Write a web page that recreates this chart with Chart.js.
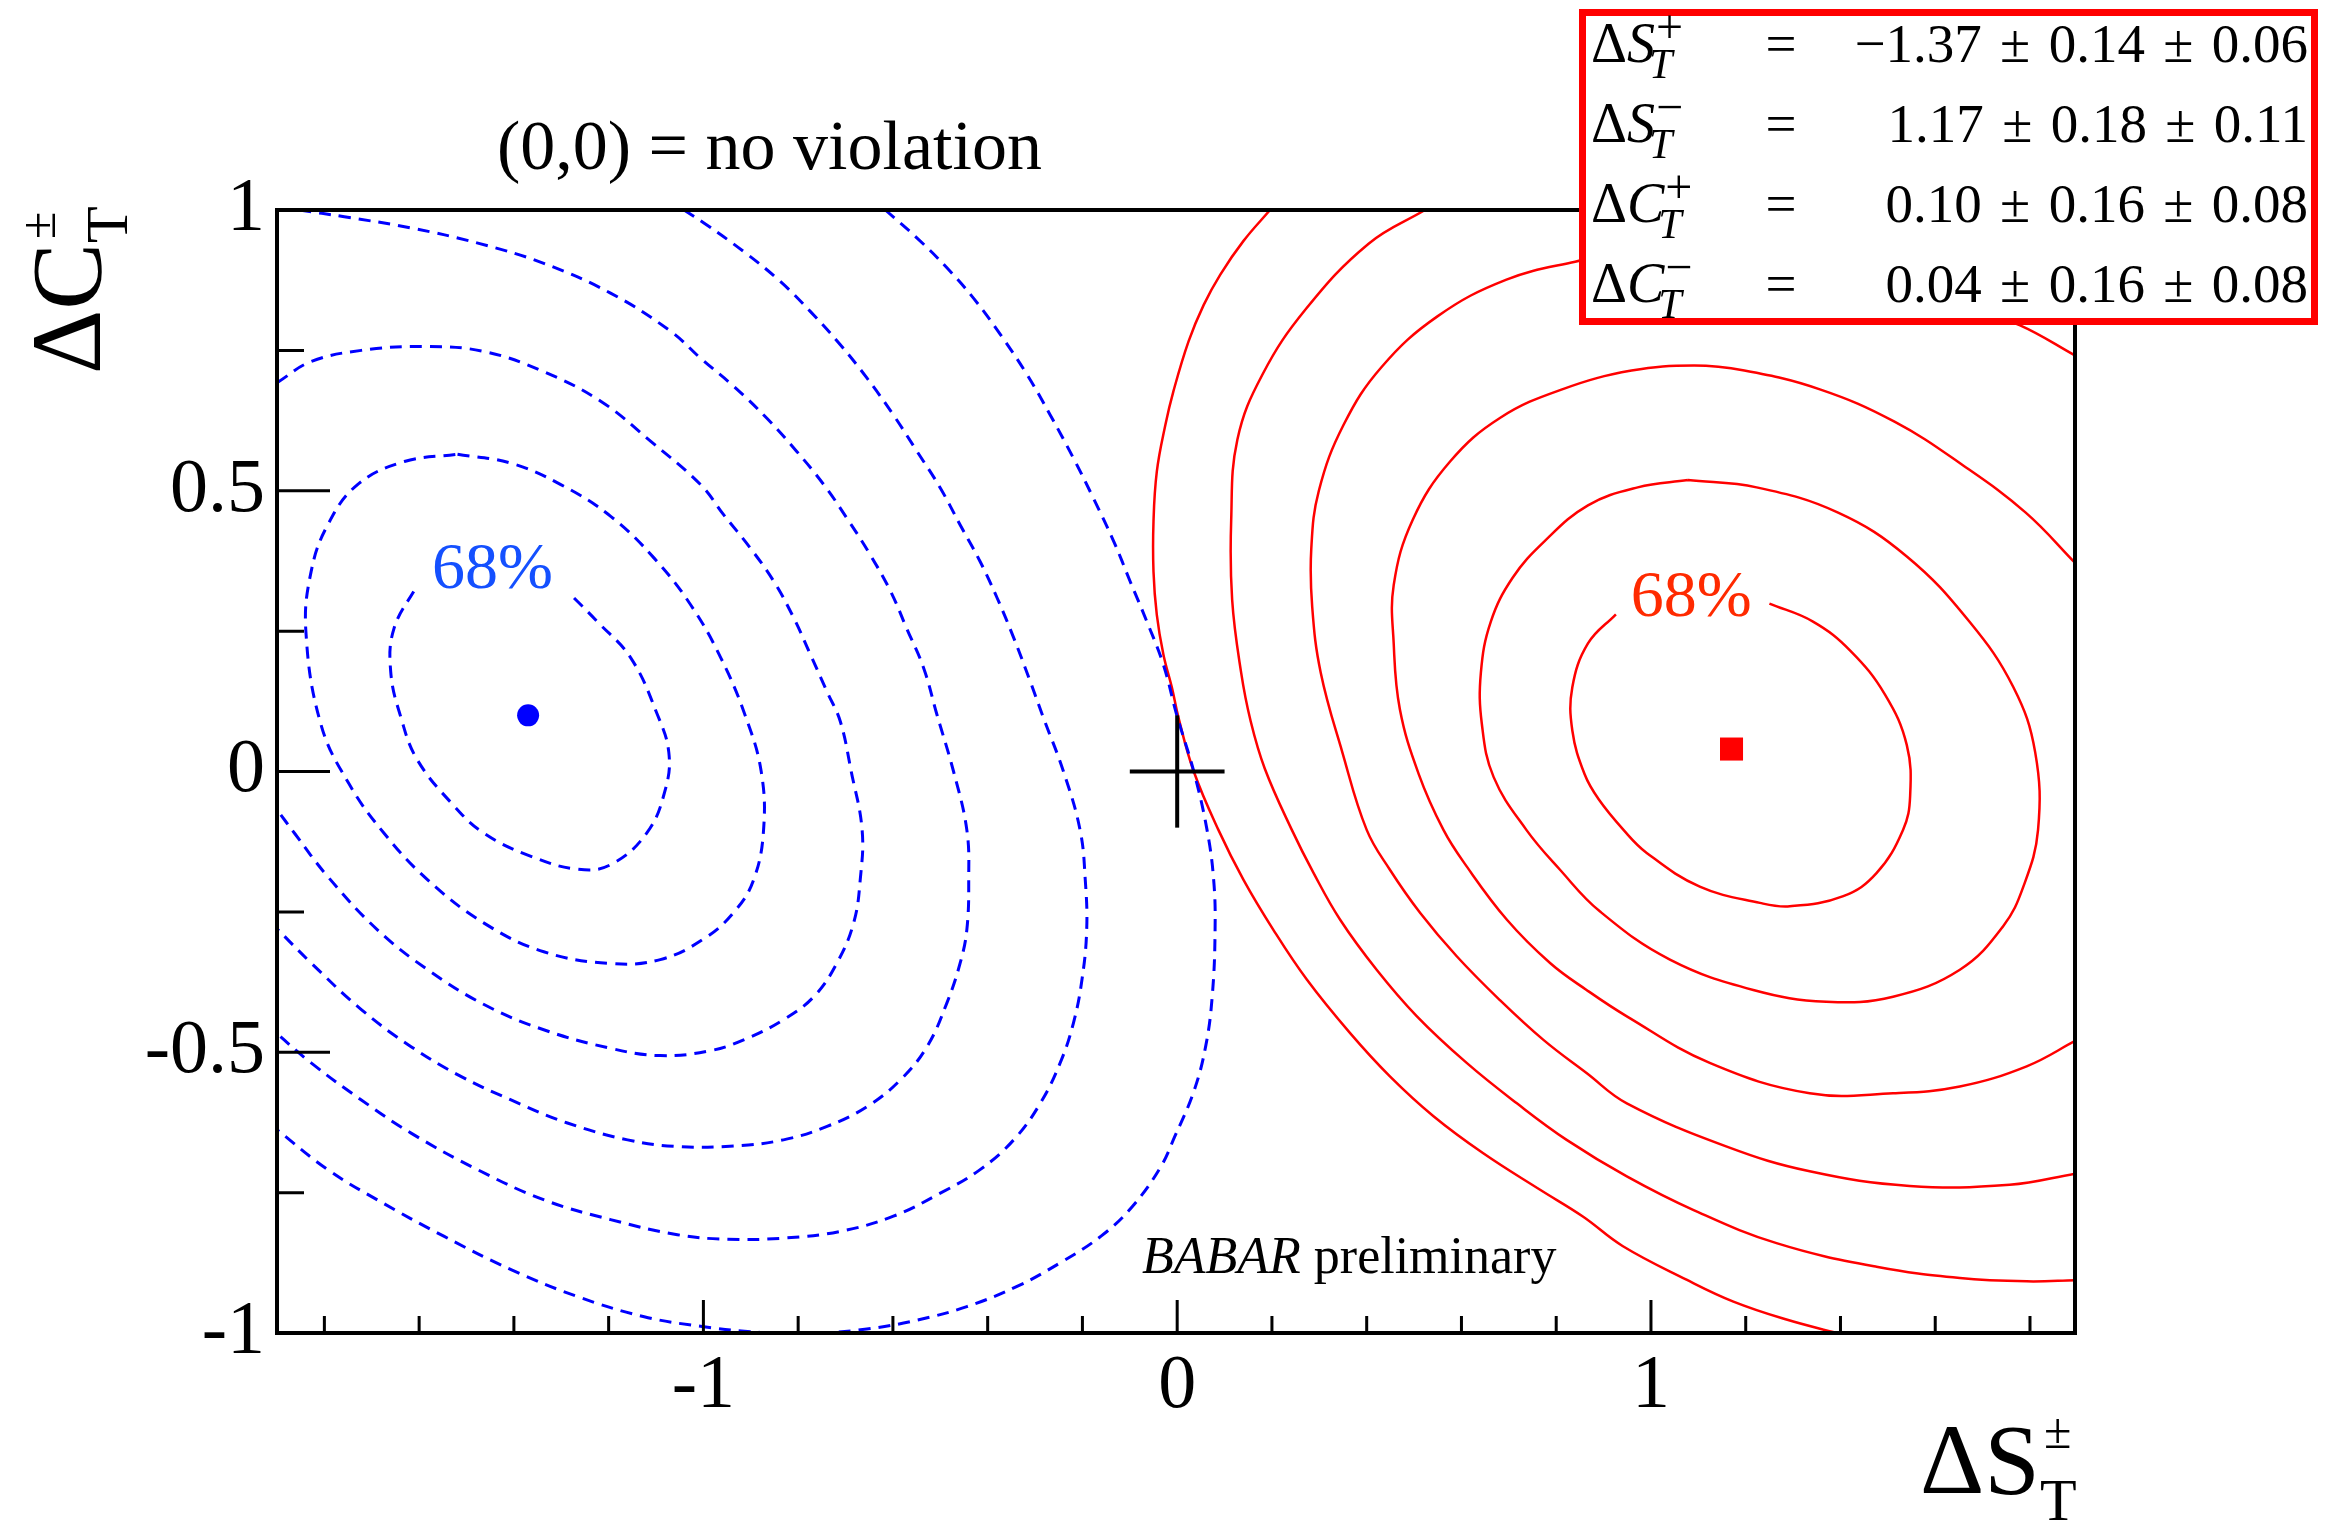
<!DOCTYPE html>
<html>
<head>
<meta charset="utf-8">
<title>ΔC vs ΔS</title>
<script src="https://cdn.jsdelivr.net/npm/chart.js@4.4.1/dist/chart.umd.min.js"></script>
<style>
  html, body { margin: 0; padding: 0; background: #fff; }
  canvas { display: block; }
</style>
</head>
<body>
<canvas id="tplot" width="2336" height="1522"></canvas>
<script>
// fit results, rows: dS+, dS-, dC+, dC-
const paramLetters = ['S', 'S', 'C', 'C'];
const paramSigns = ['+', '\u2212', '+', '\u2212'];
const centralValues = [-1.37, 1.17, 0.10, 0.04];
const statErrors = [0.14, 0.18, 0.16, 0.16];
const systErrors = [0.06, 0.11, 0.08, 0.08];

// axis ticks
const xTicks = [-1.8, -1.6, -1.4, -1.2, -1, -0.8, -0.6, -0.4, -0.2, 0, 0.2, 0.4, 0.6, 0.8, 1, 1.2, 1.4, 1.6, 1.8];
const xTickLabels = [-1, 0, 1];
const yTicks = [-1, -0.75, -0.5, -0.25, 0, 0.25, 0.5, 0.75, 1];
const yTickLabels = [-1, -0.5, 0, 0.5, 1];

// (0,0) marker arms
const crossH = [[-0.1, 0], [0.1, 0]];
const crossV = [[0, -0.1], [0, 0.1]];

// likelihood contours for (dS+, dC+), innermost = 68%
const plusLevel1 = [[-1.273, 0.309], [-1.224, 0.267], [-1.153, 0.202], [-1.097, 0.101], [-1.073, 0.034], [-1.080, -0.031], [-1.119, -0.109], [-1.196, -0.166], [-1.266, -0.174], [-1.364, -0.151], [-1.463, -0.110], [-1.531, -0.057], [-1.604, 0.021], [-1.638, 0.095], [-1.660, 0.178], [-1.653, 0.255], [-1.605, 0.330]];
const plusLevel2 = [[-1.519, 0.565], [-1.406, 0.549], [-1.301, 0.511], [-1.195, 0.454], [-1.104, 0.380], [-1.027, 0.297], [-0.963, 0.202], [-0.911, 0.098], [-0.878, 0.000], [-0.873, -0.104], [-0.894, -0.193], [-0.935, -0.250], [-0.999, -0.298], [-1.091, -0.335], [-1.196, -0.342], [-1.337, -0.321], [-1.463, -0.270], [-1.582, -0.193], [-1.674, -0.110], [-1.748, -0.022], [-1.807, 0.083], [-1.839, 0.249], [-1.828, 0.356], [-1.793, 0.439], [-1.730, 0.511], [-1.631, 0.552], [-1.519, 0.565]];
const plusLevel3 = [[-1.899, 0.693], [-1.828, 0.730], [-1.722, 0.750], [-1.590, 0.757], [-1.463, 0.748], [-1.337, 0.712], [-1.216, 0.659], [-1.111, 0.588], [-1.006, 0.511], [-0.957, 0.457], [-0.901, 0.398], [-0.851, 0.338], [-0.809, 0.273], [-0.774, 0.208], [-0.739, 0.142], [-0.711, 0.089], [-0.688, 0.000], [-0.665, -0.104], [-0.669, -0.193], [-0.683, -0.270], [-0.718, -0.341], [-0.767, -0.401], [-0.831, -0.442], [-0.915, -0.478], [-0.990, -0.498], [-1.091, -0.506], [-1.196, -0.493], [-1.337, -0.460], [-1.463, -0.415], [-1.582, -0.353], [-1.688, -0.282], [-1.793, -0.187], [-1.863, -0.110], [-1.900, -0.068]];
const plusLevel4 = [[-1.853, 1.000], [-1.758, 0.988], [-1.617, 0.968], [-1.476, 0.941], [-1.337, 0.905], [-1.196, 0.852], [-1.069, 0.784], [-1.006, 0.736], [-0.936, 0.686], [-0.866, 0.629], [-0.803, 0.570], [-0.746, 0.511], [-0.697, 0.451], [-0.648, 0.386], [-0.605, 0.321], [-0.571, 0.255], [-0.535, 0.184], [-0.507, 0.101], [-0.472, 0.000], [-0.444, -0.104], [-0.440, -0.193], [-0.444, -0.282], [-0.458, -0.341], [-0.486, -0.412], [-0.528, -0.490], [-0.584, -0.549], [-0.655, -0.597], [-0.739, -0.632], [-0.831, -0.656], [-0.936, -0.667], [-1.055, -0.668], [-1.160, -0.656], [-1.287, -0.626], [-1.406, -0.585], [-1.512, -0.543], [-1.617, -0.490], [-1.722, -0.424], [-1.828, -0.341], [-1.900, -0.280]];
const plusLevel5 = [[-1.041, 1.000], [-0.999, 0.977], [-0.915, 0.926], [-0.838, 0.873], [-0.774, 0.819], [-0.711, 0.760], [-0.655, 0.701], [-0.599, 0.635], [-0.549, 0.570], [-0.500, 0.505], [-0.458, 0.439], [-0.416, 0.374], [-0.380, 0.309], [-0.345, 0.238], [-0.310, 0.160], [-0.282, 0.095], [-0.240, 0.000], [-0.205, -0.104], [-0.194, -0.193], [-0.191, -0.282], [-0.201, -0.371], [-0.219, -0.448], [-0.247, -0.519], [-0.289, -0.591], [-0.345, -0.656], [-0.416, -0.709], [-0.500, -0.751], [-0.599, -0.792], [-0.711, -0.819], [-0.831, -0.831], [-0.950, -0.833], [-1.055, -0.825], [-1.196, -0.798], [-1.336, -0.763], [-1.477, -0.709], [-1.617, -0.644], [-1.722, -0.585], [-1.828, -0.519], [-1.900, -0.467]];
const plusLevel6 = [[-0.616, 1.000], [-0.549, 0.950], [-0.486, 0.897], [-0.430, 0.843], [-0.373, 0.778], [-0.317, 0.707], [-0.268, 0.635], [-0.219, 0.558], [-0.177, 0.487], [-0.134, 0.410], [-0.099, 0.338], [-0.064, 0.267], [-0.029, 0.190], [-0.001, 0.101], [0.035, 0.000], [0.063, -0.104], [0.077, -0.193], [0.080, -0.282], [0.074, -0.400], [0.060, -0.490], [0.035, -0.570], [-0.005, -0.650], [-0.036, -0.706], [-0.095, -0.775], [-0.160, -0.827], [-0.247, -0.875], [-0.338, -0.917], [-0.444, -0.953], [-0.549, -0.977], [-0.655, -0.993], [-0.760, -1.000], [-0.880, -0.999], [-1.006, -0.988], [-1.125, -0.971], [-1.266, -0.935], [-1.406, -0.887], [-1.547, -0.828], [-1.688, -0.763], [-1.793, -0.709], [-1.900, -0.638]];

// likelihood contours for (dS-, dC-), innermost = 68%
const minusLevel1 = [[1.250, 0.299], [1.342, 0.267], [1.421, 0.215], [1.494, 0.137], [1.540, 0.047], [1.547, -0.044], [1.532, -0.104], [1.476, -0.181], [1.406, -0.222], [1.293, -0.240], [1.230, -0.234], [1.103, -0.205], [0.991, -0.145], [0.942, -0.104], [0.890, -0.050], [0.860, -0.005], [0.834, 0.073], [0.834, 0.150], [0.867, 0.228], [0.926, 0.280]];
const minusLevel2 = [[1.078, 0.519], [1.223, 0.506], [1.395, 0.461], [1.540, 0.383], [1.672, 0.267], [1.765, 0.150], [1.811, 0.034], [1.817, -0.104], [1.786, -0.205], [1.743, -0.276], [1.652, -0.353], [1.511, -0.401], [1.370, -0.410], [1.216, -0.389], [1.040, -0.335], [0.892, -0.249], [0.808, -0.175], [0.737, -0.104], [0.668, -0.010], [0.643, 0.085], [0.641, 0.176], [0.662, 0.267], [0.708, 0.345], [0.774, 0.409], [0.867, 0.474], [0.972, 0.506], [1.078, 0.519]];
const minusLevel3 = [[1.897, 0.370], [1.791, 0.461], [1.659, 0.545], [1.514, 0.623], [1.355, 0.681], [1.197, 0.714], [1.091, 0.723], [0.959, 0.714], [0.814, 0.681], [0.682, 0.630], [0.576, 0.552], [0.497, 0.448], [0.457, 0.332], [0.457, 0.228], [0.470, 0.111], [0.510, -0.005], [0.562, -0.104], [0.611, -0.169], [0.696, -0.264], [0.787, -0.341], [0.864, -0.389], [0.949, -0.436], [1.124, -0.519], [1.335, -0.573], [1.511, -0.573], [1.652, -0.561], [1.793, -0.525], [1.897, -0.479]];
const minusLevel4 = [[1.897, 0.740], [1.778, 0.795], [1.553, 0.869], [1.289, 0.921], [1.025, 0.938], [0.840, 0.908], [0.695, 0.876], [0.550, 0.811], [0.431, 0.720], [0.351, 0.617], [0.299, 0.500], [0.283, 0.396], [0.285, 0.293], [0.303, 0.176], [0.348, 0.036], [0.400, -0.104], [0.449, -0.175], [0.513, -0.252], [0.590, -0.329], [0.681, -0.407], [0.773, -0.478], [0.864, -0.537], [0.949, -0.591], [1.160, -0.668], [1.335, -0.712], [1.546, -0.738], [1.757, -0.736], [1.897, -0.716]];
const minusLevel5 = [[0.523, 1.000], [0.404, 0.940], [0.272, 0.824], [0.180, 0.707], [0.127, 0.591], [0.114, 0.448], [0.116, 0.306], [0.135, 0.176], [0.155, 0.090], [0.185, 0.005], [0.242, -0.104], [0.288, -0.181], [0.344, -0.264], [0.421, -0.353], [0.506, -0.436], [0.611, -0.519], [0.717, -0.591], [0.822, -0.656], [0.949, -0.721], [1.090, -0.781], [1.265, -0.840], [1.476, -0.882], [1.652, -0.902], [1.793, -0.908], [1.897, -0.906]];
const minusLevel6 = [[0.196, 1.000], [0.140, 0.945], [0.091, 0.885], [0.056, 0.831], [0.024, 0.766], [-0.008, 0.677], [-0.025, 0.617], [-0.043, 0.534], [-0.050, 0.445], [-0.050, 0.356], [-0.043, 0.279], [-0.029, 0.208], [-0.011, 0.149], [0.003, 0.095], [0.035, 0.000], [0.087, -0.104], [0.140, -0.193], [0.203, -0.282], [0.274, -0.371], [0.365, -0.466], [0.449, -0.543], [0.541, -0.614], [0.646, -0.680], [0.766, -0.745], [0.857, -0.793], [0.940, -0.845], [1.075, -0.905], [1.174, -0.944], [1.286, -0.976], [1.392, -1.000]];

const plusLevels = [plusLevel1, plusLevel2, plusLevel3, plusLevel4, plusLevel5, plusLevel6];
const minusLevels = [minusLevel1, minusLevel2, minusLevel3, minusLevel4, minusLevel5, minusLevel6];

const SERIF = '"Liberation Serif", "Times New Roman", serif';
const BLUE = '#0000ff';
const RED = '#ff0000';

const toXY = pts => pts.map(p => ({ x: p[0], y: p[1] }));

function contourSet(pts, color, dashed) {
  return {
    data: toXY(pts),
    showLine: true,
    borderColor: color,
    borderWidth: dashed ? 3 : 2.5,
    borderDash: dashed ? [12, 8] : [],
    tension: 0.4,
    pointRadius: 0,
    fill: false,
    clip: 0
  };
}

const datasets = [
  // best-fit points
  { data: [{ x: centralValues[0], y: centralValues[2] }], pointStyle: 'circle', pointRadius: 11,
    backgroundColor: BLUE, borderColor: BLUE, borderWidth: 0, showLine: false },
  { data: [{ x: centralValues[1], y: centralValues[3] }], pointStyle: 'rect', pointRadius: 16.3,
    backgroundColor: RED, borderColor: RED, borderWidth: 0, showLine: false },
  // no-violation cross
  { data: toXY(crossH), showLine: true, borderColor: '#000', borderWidth: 4, pointRadius: 0 },
  { data: toXY(crossV), showLine: true, borderColor: '#000', borderWidth: 4, pointRadius: 0 }
];
plusLevels.forEach(l => datasets.push(contourSet(l, BLUE, true)));
minusLevels.forEach(l => datasets.push(contourSet(l, RED, false)));

// frame with inward ticks (ROOT style)
const framePlugin = {
  id: 'frame',
  afterDatasetsDraw(chart) {
    const { ctx, chartArea: a, scales: { x, y } } = chart;
    ctx.save();
    ctx.strokeStyle = '#000';
    ctx.lineWidth = 3;
    ctx.beginPath();
    x.ticks.forEach(t => {
      const px = x.getPixelForValue(t.value);
      const len = xTickLabels.includes(t.value) ? 33 : 17;
      ctx.moveTo(px, a.bottom);
      ctx.lineTo(px, a.bottom - len);
    });
    y.ticks.forEach(t => {
      const py = y.getPixelForValue(t.value);
      const len = yTickLabels.includes(t.value) ? 53 : 27;
      ctx.moveTo(a.left, py);
      ctx.lineTo(a.left + len, py);
    });
    ctx.stroke();
    ctx.lineWidth = 4;
    ctx.strokeRect(a.left, a.top, a.right - a.left, a.bottom - a.top);
    ctx.restore();
  }
};

// "ΔX" with ± superscript and T subscript
function deltaTitle(ctx, x0, y0, letter) {
  ctx.font = `100px ${SERIF}`;
  const main = '\u0394' + letter;
  ctx.fillText(main, x0, y0);
  const w = ctx.measureText(main).width;
  ctx.font = `50px ${SERIF}`;
  ctx.fillText('\u00b1', x0 + w + 4, y0 - 45);
  ctx.font = `60px ${SERIF}`;
  ctx.fillText('T', x0 + w, y0 + 27);
}

function fmt(v) {
  return (v < 0 ? '\u2212' : '') + Math.abs(v).toFixed(2);
}

const PM = '\u2004\u00b1\u2004';

const textPlugin = {
  id: 'texts',
  afterDraw(chart) {
    const { ctx, scales: { x, y } } = chart;
    ctx.save();
    ctx.fillStyle = '#000';
    ctx.textBaseline = 'alphabetic';

    ctx.textAlign = 'left';
    ctx.font = `70px ${SERIF}`;
    ctx.fillText('(0,0) = no violation', 497, 169);

    ctx.font = `italic 52px ${SERIF}`;
    ctx.fillText('BABAR', 1142, 1273);
    const bw = ctx.measureText('BABAR ').width;
    ctx.font = `52px ${SERIF}`;
    ctx.fillText('preliminary', 1142 + bw, 1273);

    // contour level labels
    ctx.textAlign = 'center';
    ctx.font = `66px ${SERIF}`;
    ctx.fillStyle = '#1450ff';
    ctx.fillText('68%', x.getPixelForValue(-1.445), y.getPixelForValue(0.327));
    ctx.fillStyle = '#ff2a00';
    ctx.fillText('68%', x.getPixelForValue(1.085), y.getPixelForValue(0.277));

    // axis titles
    ctx.fillStyle = '#000';
    ctx.textAlign = 'left';
    deltaTitle(ctx, 1920, 1493, 'S');
    ctx.save();
    ctx.translate(100, 374);
    ctx.rotate(-Math.PI / 2);
    deltaTitle(ctx, 0, 0, 'C');
    ctx.restore();

    // results box
    ctx.fillStyle = '#fff';
    ctx.fillRect(1579, 9, 739, 316);
    ctx.strokeStyle = RED;
    ctx.lineWidth = 7;
    ctx.strokeRect(1582.5, 12.5, 732, 309);
    ctx.fillStyle = '#000';
    for (let i = 0; i < centralValues.length; i++) {
      const base = 62 + 80 * i;
      ctx.textAlign = 'left';
      ctx.font = `56px ${SERIF}`;
      ctx.fillText('\u0394', 1591, base);
      let cx = 1591 + ctx.measureText('\u0394').width;
      ctx.font = `italic 56px ${SERIF}`;
      ctx.fillText(paramLetters[i], cx, base);
      cx += ctx.measureText(paramLetters[i]).width;
      ctx.font = `48px ${SERIF}`;
      ctx.fillText(paramSigns[i], cx + 1, base - 19);
      ctx.font = `italic 42px ${SERIF}`;
      ctx.fillText('T', cx - 6, base + 16);
      ctx.font = `55px ${SERIF}`;
      ctx.textAlign = 'center';
      ctx.fillText('=', 1781, base);
      ctx.textAlign = 'right';
      ctx.fillText(fmt(centralValues[i]) + PM + statErrors[i].toFixed(2) + PM + systErrors[i].toFixed(2), 2308, base);
    }
    ctx.restore();
  }
};

new Chart(document.getElementById('tplot').getContext('2d'), {
  type: 'scatter',
  data: { datasets: datasets },
  options: {
    responsive: false,
    animation: false,
    devicePixelRatio: 1,
    layout: { padding: { left: 0, top: 210, right: 261, bottom: 0 } },
    plugins: { legend: { display: false }, tooltip: { enabled: false } },
    scales: {
      x: {
        type: 'linear',
        min: -1.9,
        max: 1.895,
        afterBuildTicks: s => { s.ticks = xTicks.map(v => ({ value: v })); },
        afterFit: s => { s.height = 189; },
        grid: { display: false, drawTicks: false },
        border: { display: false },
        ticks: {
          autoSkip: false, maxRotation: 0, padding: 8, color: '#000',
          font: { family: SERIF, size: 76 },
          callback: v => xTickLabels.includes(v) ? String(v) : ''
        }
      },
      y: {
        type: 'linear',
        min: -1,
        max: 1,
        afterBuildTicks: s => { s.ticks = yTicks.map(v => ({ value: v })); },
        afterFit: s => { s.width = 277; },
        grid: { display: false, drawTicks: false },
        border: { display: false },
        ticks: {
          autoSkip: false, padding: 12, color: '#000',
          font: { family: SERIF, size: 76 },
          callback: v => yTickLabels.includes(v) ? String(v) : ''
        }
      }
    }
  },
  plugins: [framePlugin, textPlugin]
});
</script>
</body>
</html>
